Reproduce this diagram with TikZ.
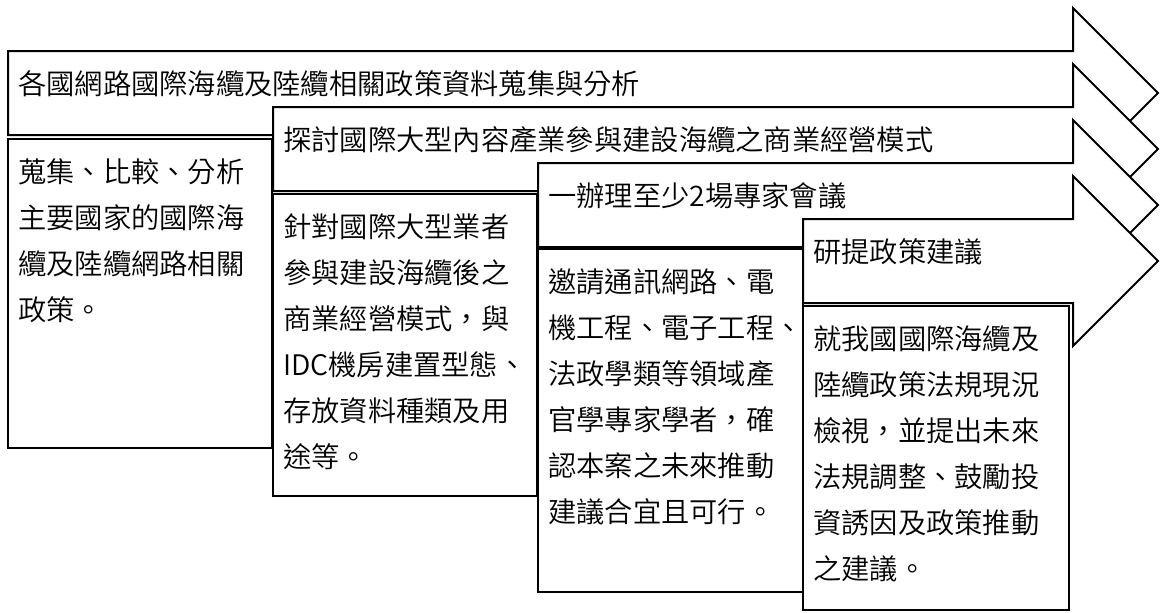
\documentclass[tikz,border=0pt]{standalone}
\usepackage{fontspec}
\newfontfamily\tcfont{Noto Sans CJK TC}[UprightFont={* DemiLight}]
\begin{document}
\begin{tikzpicture}[x=0.75pt,y=-0.75pt,
  arr/.style={draw=black, fill=white, line width=1.5pt, line join=miter},
  boxshape/.style={draw=black, fill=white, line width=1.5pt},
  txt/.style={anchor=base west, inner sep=0pt, font=\tcfont\fontsize{21.2pt}{25pt}\selectfont}]
\useasboundingbox (0,0) rectangle (1160,612);
% block arrows
\foreach \L/\t in {8/51, 273/107, 538/163, 803/219}{
  \draw[arr] (\L,\t) -- (1073,\t) -- (1073,\t-43) -- (1158,\t+42) -- (1073,\t+127)
     -- (1073,\t+84) -- (\L,\t+84) -- cycle;
}
% boxes
\draw[boxshape] (8,139) rectangle (272,448);
\draw[boxshape] (273,194) rectangle (537,496);
\draw[boxshape] (538,249) rectangle (803,592);
\draw[boxshape] (803,306) rectangle (1069,610);
% titles
\node[txt] (t1) at (18,94) {各國網路國際海纜及陸纜相關政策資料蒐集與分析};
\node[txt] (t2) at (283,150) {探討國際大型內容產業參與建設海纜之商業經營模式};
\node[txt] (t3) at (548,206) {一辦理至少2場專家會議};
\node[txt] (t4) at (813,262) {研提政策建議};
% box texts
\foreach \s [count=\i] in {蒐集、比較、分析, 主要國家的國際海, 纜及陸纜網路相關, 政策。}
  \node[txt] (a\i) at (18,182+46*\i-46) {\s};
\foreach \s [count=\i] in {針對國際大型業者, 參與建設海纜後之, 商業經營模式，與, IDC機房建置型態、, 存放資料種類及用, 途等。}
  \node[txt] (b\i) at (283,237+46*\i-46) {\s};
\foreach \s [count=\i] in {邀請通訊網路、電, 機工程、電子工程、, 法政學類等領域產, 官學專家學者，確, 認本案之未來推動, 建議合宜且可行。}
  \node[txt] (c\i) at (548,292+46*\i-46) {\s};
\foreach \s [count=\i] in {就我國國際海纜及, 陸纜政策法規現況, 檢視，並提出未來, 法規調整、鼓勵投, 資誘因及政策推動, 之建議。}
  \node[txt] (d\i) at (813,349+46*\i-46) {\s};
\end{tikzpicture}
\end{document}
